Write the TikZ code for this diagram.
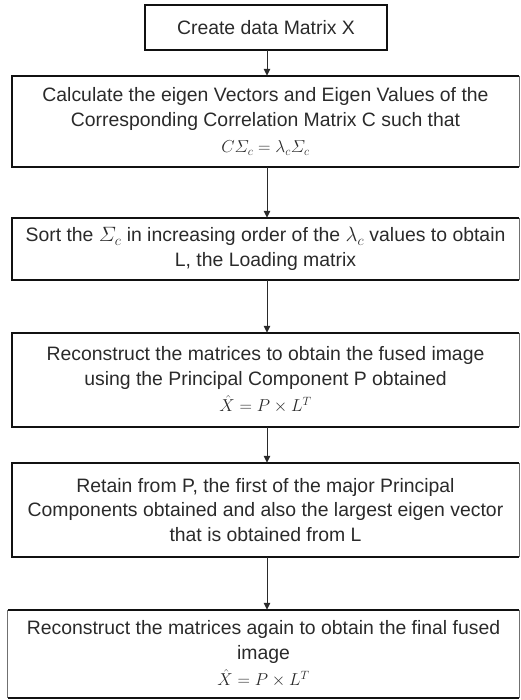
\documentclass[tikz,border=0pt]{standalone}
\usepackage{amsmath}
\usepackage{fontspec}
\setmainfont{Liberation Sans}
\usetikzlibrary{arrows.meta}
\definecolor{ink}{HTML}{2A2A2A}
\definecolor{edge}{HTML}{111111}
\definecolor{sideedge}{HTML}{707070}
% formula line inside a step box, set a little smaller than the text
\newcommand{\formula}[1]{{\fontsize{17.5}{24.5}\selectfont$#1$}}
\begin{document}
\begin{tikzpicture}[x=1pt,y=-1pt,
  stepbox/.style={inner sep=0pt, align=center, text=ink,
    font=\fontsize{19.4}{24.5}\selectfont},
  frame/.style={draw=edge, line width=2.2pt, line join=miter},
  sideframe/.style={draw=sideedge, line width=0.9pt},
  flow/.style={draw=ink, line width=1pt, -{Triangle[length=7pt,width=6.5pt]}}]
\useasboundingbox (0,0) rectangle (520,700);

% process steps
\node[stepbox, minimum width=242pt, minimum height=45pt] (b1) at (266,27.5)
  {Create data Matrix X};
\node[stepbox, minimum width=507pt, minimum height=91pt] (b2) at (265.5,121.5)
  {Calculate the eigen Vectors and Eigen Values of the\\
   Corresponding Correlation Matrix C such that\\[2pt]
   \formula{C\varSigma_c = \lambda_c\varSigma_c}};
\node[stepbox, minimum width=507pt, minimum height=62pt] (b3) at (265.5,249)
  {Sort the $\varSigma_c$ in increasing order of the $\lambda_c$ values to obtain\\
   L, the Loading matrix};
\node[stepbox, minimum width=507pt, minimum height=94pt] (b4) at (265.5,380)
  {Reconstruct the matrices to obtain the fused image\\
   using the Principal Component P obtained\\[2pt]
   \formula{\hat{X} = P \times L^{T}}};
\node[stepbox, minimum width=507pt, minimum height=94pt] (b5) at (265.5,510)
  {Retain from P, the first of the major Principal\\
   Components obtained and also the largest eigen vector\\
   that is obtained from L};
\node[stepbox, minimum width=511pt, minimum height=88pt] (b6) at (263.5,654)
  {Reconstruct the matrices again to obtain the final fused\\
   image\\[2pt]
   \formula{\hat{X} = P \times L^{T}}};

% box outlines: heavy left, top and bottom, light right side
\draw[frame] (b1.north west) rectangle (b1.south east);
\foreach \n in {b2,b3,b4,b5} {
  \draw[frame] (\n.north east) -- (\n.north west) -- (\n.south west) -- (\n.south east);
  \draw[sideframe] (\n.south east) -- (\n.north east);
}
\draw[frame] (b6.north west) -- (b6.north east);
\draw[frame] (b6.south west) -- (b6.south east);
\draw[sideframe] (b6.north west) -- (b6.south west);
\draw[sideframe] (b6.north east) -- (b6.south east);

% connectors
\draw[flow] (b1.south -| 267,0) -- (b2.north -| 267,0);
\draw[flow] (b2.south -| 267,0) -- (b3.north -| 267,0);
\draw[flow] (b3.south -| 267,0) -- (b4.north -| 267,0);
\draw[flow] (b4.south -| 267,0) -- (b5.north -| 267,0);
\draw[flow] (b5.south -| 267,0) -- (b6.north -| 267,0);
\end{tikzpicture}
\end{document}
